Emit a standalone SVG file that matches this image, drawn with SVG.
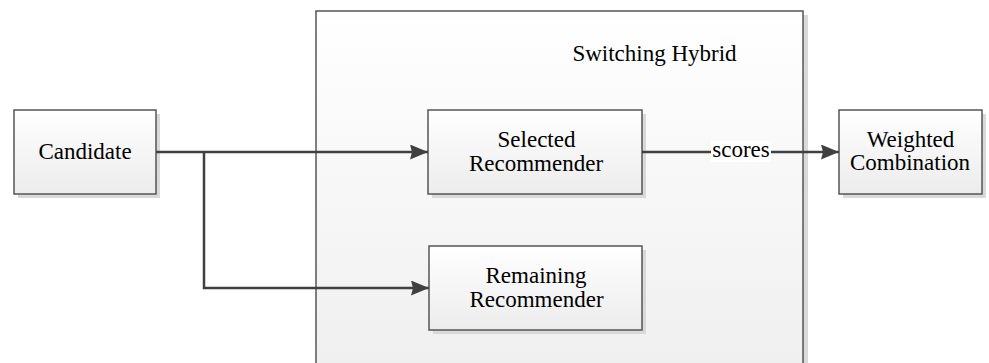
<svg xmlns="http://www.w3.org/2000/svg" width="989" height="363" viewBox="0 0 989 363">
  <defs>
    <linearGradient id="boxFill" x1="0" y1="0" x2="0" y2="1">
      <stop offset="0" stop-color="#ffffff"/>
      <stop offset="1" stop-color="#ececec"/>
    </linearGradient>
    <linearGradient id="groupFill" x1="0" y1="0" x2="0" y2="1">
      <stop offset="0" stop-color="#ffffff"/>
      <stop offset="1" stop-color="#efefef"/>
    </linearGradient>
    <marker id="arrow" viewBox="0 0 18 15" refX="18" refY="7.5" markerWidth="18" markerHeight="15" markerUnits="userSpaceOnUse" orient="auto">
      <path d="M0,0 L18,7.5 L0,15 L2,7.5 Z" fill="#404040"/>
    </marker>
  </defs>
  <style>
    .shadow { fill: #d9d9d9; }
    .box { fill: url(#boxFill); stroke: #555555; stroke-width: 1.5; }
    .group { fill: url(#groupFill); stroke: #555555; stroke-width: 1.5; }
    text { font-family: 'Liberation Serif', 'Times New Roman', Times, serif; font-size: 23px; fill: #000000; text-anchor: middle; }
    .edge { fill: none; stroke: #404040; stroke-width: 2.5; }
  </style>

  <rect width="989" height="363" fill="#ffffff"/>

  <!-- container -->
  <g id="switching-hybrid">
    <rect class="shadow" x="320" y="15" width="488" height="360"/>
    <rect class="group" x="316" y="11" width="487" height="364"/>
    <text x="654.5" y="61">Switching Hybrid</text>
  </g>

  <g id="candidate">
    <rect class="shadow" x="18" y="114" width="142" height="84"/>
    <rect class="box" x="14" y="110" width="142" height="84"/>
    <text x="85" y="159">Candidate</text>
  </g>

  <g id="selected-recommender">
    <rect class="shadow" x="432" y="114" width="214" height="84"/>
    <rect class="box" x="428" y="110" width="214" height="84"/>
    <text x="536.5" y="147">Selected</text>
    <text x="536" y="171">Recommender</text>
  </g>

  <g id="remaining-recommender">
    <rect class="shadow" x="433" y="250" width="213" height="84"/>
    <rect class="box" x="429" y="246" width="213" height="84"/>
    <text x="536" y="283">Remaining</text>
    <text x="536.5" y="307">Recommender</text>
  </g>

  <g id="weighted-combination">
    <rect class="shadow" x="843" y="114" width="143" height="84"/>
    <rect class="box" x="839" y="110" width="143" height="84"/>
    <text x="910.5" y="147">Weighted</text>
    <text x="910" y="170">Combination</text>
  </g>

  <!-- connectors -->
  <g id="connectors">
    <path class="edge" d="M156,152 L428,152" marker-end="url(#arrow)"/>
    <path class="edge" d="M204,152 L204,288 L429,288" marker-end="url(#arrow)"/>
    <path class="edge" d="M642,152 L839,152" marker-end="url(#arrow)"/>
    <rect x="711" y="141" width="60" height="21" fill="#ffffff"/>
    <text x="741" y="157">scores</text>
  </g>
</svg>
